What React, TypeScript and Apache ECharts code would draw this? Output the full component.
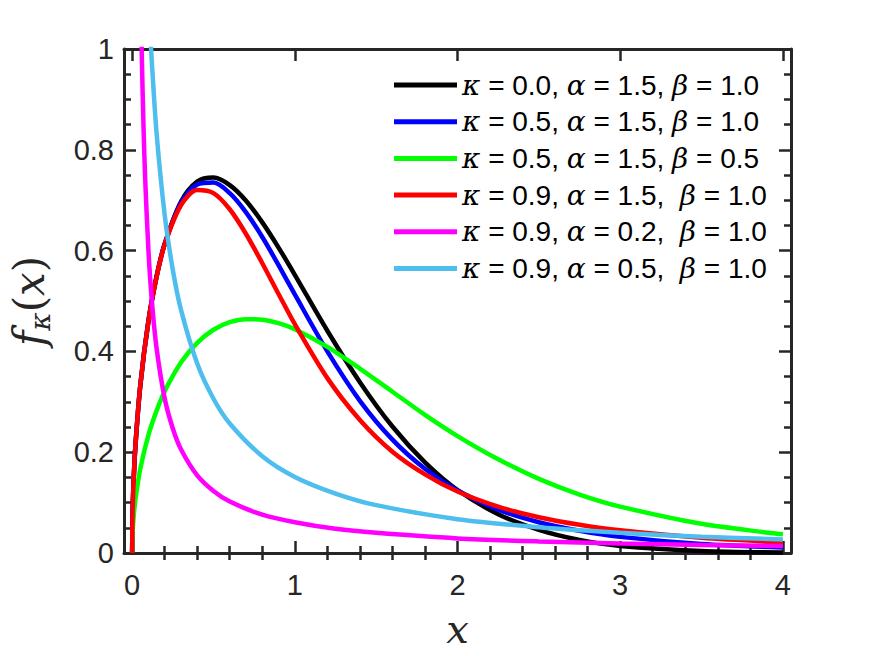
import React, { useEffect, useRef } from "react";
import * as echarts from "echarts";

// ---- data ----
const xMain = [0, 0.002, 0.005, 0.01, 0.02, 0.05, 0.1, 0.15, 0.2, 0.3, 0.4, 0.5, 0.6, 0.7, 0.8, 0.9, 1.0, 1.2, 1.4, 1.6, 1.8, 2.0, 2.25, 2.5, 2.75, 3.0, 3.5, 4.0];
const yBlack = [0, 0.067, 0.106, 0.150, 0.212, 0.332, 0.460, 0.548, 0.613, 0.697, 0.737, 0.745, 0.730, 0.699, 0.656, 0.606, 0.552, 0.441, 0.339, 0.251, 0.180, 0.125, 0.077, 0.046, 0.026, 0.014, 0.004, 0.001];
const yBlue = [0, 0.067, 0.106, 0.150, 0.212, 0.332, 0.460, 0.548, 0.613, 0.695, 0.731, 0.735, 0.714, 0.676, 0.627, 0.571, 0.513, 0.400, 0.302, 0.225, 0.167, 0.124, 0.086, 0.061, 0.044, 0.032, 0.018, 0.011];
const yGreen = [0, 0.034, 0.053, 0.075, 0.106, 0.167, 0.234, 0.282, 0.321, 0.378, 0.417, 0.443, 0.458, 0.464, 0.463, 0.456, 0.444, 0.409, 0.366, 0.320, 0.274, 0.232, 0.186, 0.147, 0.116, 0.092, 0.058, 0.037];
const yRed = [0, 0.067, 0.106, 0.150, 0.212, 0.332, 0.459, 0.547, 0.612, 0.690, 0.720, 0.714, 0.682, 0.633, 0.575, 0.514, 0.454, 0.347, 0.264, 0.201, 0.156, 0.122, 0.092, 0.071, 0.056, 0.045, 0.030, 0.021];

const xMagenta = [0.05, 0.06, 0.07, 0.08, 0.1, 0.12, 0.15, 0.2, 0.25, 0.3, 0.4, 0.5, 0.6, 0.8, 1.0, 1.25, 1.5, 2.0, 2.5, 3.0, 3.5, 4.0];
const yMagenta = [1.160, 0.978, 0.845, 0.744, 0.602, 0.505, 0.407, 0.307, 0.247, 0.206, 0.154, 0.123, 0.102, 0.076, 0.061, 0.048, 0.040, 0.029, 0.023, 0.019, 0.016, 0.014];

const xCyan = [0.1, 0.11, 0.12, 0.15, 0.2, 0.25, 0.3, 0.4, 0.5, 0.6, 0.8, 1.0, 1.25, 1.5, 2.0, 2.5, 3.0, 3.5, 4.0];
const yCyan = [1.113, 1.042, 0.980, 0.834, 0.671, 0.562, 0.483, 0.376, 0.306, 0.257, 0.192, 0.151, 0.118, 0.095, 0.067, 0.051, 0.040, 0.032, 0.027];

const seriesNames = [
  "κ = 0.0, α = 1.5, β = 1.0",
  "κ = 0.5, α = 1.5, β = 1.0",
  "κ = 0.5, α = 1.5, β = 0.5",
  "κ = 0.9, α = 1.5,  β = 1.0",
  "κ = 0.9, α = 0.2,  β = 1.0",
  "κ = 0.9, α = 0.5,  β = 1.0",
];
const seriesColors = ["#000000", "#0000ff", "#00ff00", "#ff0000", "#ff00ff", "#4dbeee"];
const seriesX = [xMain, xMain, xMain, xMain, xMagenta, xCyan];
const seriesY = [yBlack, yBlue, yGreen, yRed, yMagenta, yCyan];

const xMajorTicks = [0, 1, 2, 3, 4];
const xMinorTicks = [0.2, 0.4, 0.6, 0.8, 1.2, 1.4, 1.6, 1.8, 2.2, 2.4, 2.6, 2.8, 3.2, 3.4, 3.6, 3.8];
const X_MIN = -0.05;
const X_MAX = 4.05;

const AX = "#262626";
const SANS = "'Liberation Sans', Arial, Helvetica, sans-serif";
const SERIF = "'DejaVu Serif', 'Liberation Serif', serif";

export default function App() {
  const ref = useRef<HTMLDivElement>(null);

  useEffect(() => {
    const chart = echarts.init(ref.current!, undefined, { renderer: "svg" });

    const axisLine = { show: true, onZero: false, lineStyle: { color: AX, width: 3 } };
    const tickStyle = { color: AX, width: 2.5 };

    const xBase = {
      type: "value" as const,
      gridIndex: 0,
      min: X_MIN,
      max: X_MAX,
      splitLine: { show: false },
    };

    const option: any = {
      animation: false,
      backgroundColor: "#ffffff",
      grid: { left: 114, right: 84, top: 49, bottom: 103, show: false },
      legend: {
        show: true,
        orient: "vertical",
        left: 394,
        top: 70,
        icon: "rect",
        itemWidth: 63,
        itemHeight: 5,
        itemGap: 6.7,
        selectedMode: false,
        padding: 0,
        data: seriesNames,
        formatter: (name: string) => name.replace(/[καβ]/g, (m) => `{g|${m}}`),
        textStyle: {
          color: "#000",
          fontFamily: SANS,
          fontSize: 28,
          lineHeight: 30,
          rich: {
            g: { fontFamily: SERIF, fontStyle: "italic", fontSize: 28, lineHeight: 30, color: "#000" },
          },
        },
      },
      xAxis: [
        {
          ...xBase,
          position: "bottom",
          axisLine,
          axisTick: { show: true, inside: true, length: 12, customValues: xMajorTicks, lineStyle: tickStyle },
          axisLabel: { show: true, customValues: xMajorTicks, margin: 17, color: AX, fontFamily: SANS, fontSize: 29 },
          name: "x",
          nameLocation: "middle",
          nameGap: 56,
          nameTextStyle: { fontFamily: SERIF, fontStyle: "italic", fontSize: 40, color: AX },
        },
        {
          ...xBase,
          position: "bottom",
          axisLine: { show: false },
          axisTick: { show: true, inside: true, length: 7, customValues: xMinorTicks, lineStyle: tickStyle },
          axisLabel: { show: false },
        },
        {
          ...xBase,
          position: "top",
          axisLine,
          axisTick: { show: true, inside: true, length: 12, customValues: xMajorTicks, lineStyle: tickStyle },
          axisLabel: { show: false },
        },
        {
          ...xBase,
          position: "top",
          axisLine: { show: false },
          axisTick: { show: true, inside: true, length: 7, customValues: xMinorTicks, lineStyle: tickStyle },
          axisLabel: { show: false },
        },
      ],
      yAxis: [
        {
          type: "value",
          gridIndex: 0,
          position: "left",
          min: 0,
          max: 1,
          interval: 0.2,
          splitLine: { show: false },
          axisLine,
          axisTick: { show: true, inside: true, length: 12, lineStyle: tickStyle },
          minorTick: { show: true, splitNumber: 4, length: 7, lineStyle: tickStyle },
          axisLabel: { show: true, margin: 10, color: AX, fontFamily: SANS, fontSize: 29 },
          name: "{f|f}{k|κ}{p|(}{x|x}{p|)}",
          nameLocation: "middle",
          nameRotate: 90,
          nameGap: 70,
          nameTextStyle: {
            color: AX,
            rich: {
              f: { fontFamily: SERIF, fontStyle: "italic", fontSize: 42, lineHeight: 50, color: AX },
              k: { fontFamily: SERIF, fontStyle: "italic", fontSize: 28, lineHeight: 50, verticalAlign: "bottom", color: AX },
              p: { fontFamily: SERIF, fontSize: 42, lineHeight: 50, color: AX },
              x: { fontFamily: SERIF, fontStyle: "italic", fontSize: 42, lineHeight: 50, color: AX },
            },
          },
        },
        {
          type: "value",
          gridIndex: 0,
          position: "right",
          min: 0,
          max: 1,
          interval: 0.2,
          splitLine: { show: false },
          axisLine,
          axisTick: { show: true, inside: true, length: 12, lineStyle: tickStyle },
          minorTick: { show: true, splitNumber: 4, length: 7, lineStyle: tickStyle },
          axisLabel: { show: false },
        },
      ],
      series: seriesNames.map((name, i) => ({
        name,
        type: "line",
        xAxisIndex: 0,
        yAxisIndex: 0,
        symbol: "none",
        showSymbol: false,
        smooth: 0.3,
        clip: true,
        color: seriesColors[i],
        lineStyle: { color: seriesColors[i], width: 4.5 },
        data: seriesX[i].map((x, j) => [x, seriesY[i][j]]),
      })),
    };

    chart.setOption(option);
    return () => chart.dispose();
  }, []);

  return (
    <div
      ref={ref}
      style={{ position: "absolute", left: 0, top: 0, width: 875, height: 656, background: "#fff" }}
    />
  );
}
